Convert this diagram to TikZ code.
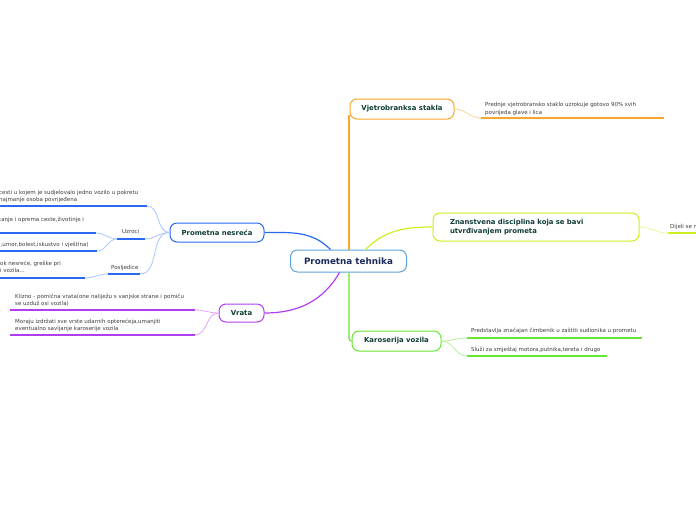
\documentclass[tikz,border=0pt]{standalone}
\usepackage{fontspec}
\setmainfont{DejaVu Sans}
\usetikzlibrary{positioning}
\definecolor{RootBlue}{HTML}{5DA3DA}
\definecolor{Navy}{HTML}{1B2A5C}
\definecolor{DarkGreen}{HTML}{0F3D35}
\definecolor{LeafGray}{HTML}{3C3C3C}
\definecolor{BrOrange}{HTML}{F7A629}
\definecolor{LightOrange}{HTML}{FBD48F}
\definecolor{Lime}{HTML}{D0EE1E}
\definecolor{LightLime}{HTML}{E8F79A}
\definecolor{BrGreen}{HTML}{66E62E}
\definecolor{LightGreen}{HTML}{B5F39A}
\definecolor{BrBlue}{HTML}{2A68F2}
\definecolor{LightBlue}{HTML}{A9C4FF}
\definecolor{BrPurple}{HTML}{B23EF3}
\definecolor{LightPurple}{HTML}{DDA8F8}

\begin{document}
\begin{tikzpicture}[x=1pt,y=-1pt,
        root/.style={draw=RootBlue,line width=1pt,rounded corners=7pt,fill=white,text=Navy,
          font=\fontsize{8.8}{10}\selectfont\bfseries,minimum width=116pt,minimum height=22pt,inner sep=0pt},
        topic/.style={line width=1pt,rounded corners=7pt,fill=white,text=DarkGreen,
          font=\fontsize{6.9}{9}\selectfont\bfseries,minimum height=20pt,inner sep=0pt},
        leaf/.style={anchor=north west,inner sep=0pt,align=left,text=LeafGray,
          font=\fontsize{5.5}{7.2}\selectfont},
        branch/.style={draw=#1,line width=1.2pt},
        twig/.style={draw=#1,line width=0.8pt},
        underline/.style={draw=#1,line width=1.8pt}]
        \useasboundingbox (0,0) rectangle (696,520);
        \clip (0,0) rectangle (696,520);
        \coordinate (trunk) at (349,0);

        \node[root] (tehnika) at (348.5,261) {Prometna tehnika};
        \node[topic,draw=BrOrange,minimum width=104pt] (stakla) at (402,109) {Vjetrobranksa stakla};
        \node[topic,draw=Lime,minimum width=206pt,minimum height=28pt,text width=172pt,align=left]
          (znanost) at (536,227) {Znanstvena disciplina koja se bavi\\utvrđivanjem prometa};
        \node[topic,draw=BrGreen,minimum width=89pt] (karoserija) at (396.5,341) {Karoserija vozila};
        \node[topic,draw=BrBlue,minimum width=94pt,minimum height=19pt] (nesreca) at (217,232.5) {Prometna nesreća};
        \node[topic,draw=BrPurple,minimum width=45pt,minimum height=18pt] (vrata) at (241.5,313) {Vrata};

        \draw[branch=BrOrange] (tehnika.north -| trunk) -- ([yshift=5pt]stakla.south -| trunk);
        \draw[branch=BrGreen] (tehnika.south -| trunk) -- ([yshift=8pt]karoserija.west -| trunk)
          to[out=-90,in=180] (karoserija.west);
        \draw[branch=Lime] ([xshift=17pt]tehnika.north) to[out=45,in=180] (znanost.west);
        \draw[branch=BrBlue] ([xshift=-18pt]tehnika.north) to[out=135,in=0] (nesreca.east);
        \draw[branch=BrPurple] ([xshift=-9pt]tehnika.south) to[out=-120,in=0] (vrata.east);

        \node[leaf] (prednje) at (485,102.5) {Prednje vjetrobransko staklo uzrokuje gotovo 90\% svih\\povrijeda glave i lica};
        \coordinate (prednje-a) at (481,118);
        \coordinate (prednje-b) at (664,118);
        \draw[underline=BrOrange] (prednje-a) -- (prednje-b);
        \draw[twig=LightOrange] (stakla.east) to[out=0,in=180] (prednje-a);

        \node[leaf] (dijeli) at (670,224) {Dijeli se na};
        \coordinate (dijeli-a) at (668,233);
        \coordinate (dijeli-b) at (700,233);
        \draw[underline=Lime] (dijeli-a) -- (dijeli-b);
        \draw[twig=LightLime] (znanost.east) to[out=0,in=180] (dijeli-a);

        \node[leaf] (predstavlja) at (471,328) {Predstavlja značajan čimbenik u zaštiti sudionika u prometu};
        \coordinate (predstavlja-a) at (467,338);
        \coordinate (predstavlja-b) at (642,338);
        \node[leaf] (sluzi) at (471,347) {Služi za smještaj motora,putnika,tereta i drugo};
        \coordinate (sluzi-a) at (467,356);
        \coordinate (sluzi-b) at (607,356);
        \draw[underline=BrGreen] (predstavlja-a) -- (predstavlja-b);
        \draw[underline=BrGreen] (sluzi-a) -- (sluzi-b);
        \draw[twig=LightGreen] (karoserija.east) to[out=0,in=180] (predstavlja-a);
        \draw[twig=LightGreen] (karoserija.east) to[out=0,in=180] (sluzi-a);

        \node[leaf] (definicija) at (-1,190) {cesti u kojem je sudjelovalo jedno vozilo u pokretu\\najmanje osoba povrijeđena};
        \coordinate (definicija-a) at (-5,206);
        \coordinate (definicija-b) at (147,206);
        \node[leaf] (uzroci) at (122,229) {Uzroci};
        \coordinate (uzroci-a) at (117,239);
        \coordinate (uzroci-b) at (145,239);
        \node[leaf] (posljedice) at (111,265) {Posljedice};
        \coordinate (posljedice-a) at (108,274);
        \coordinate (posljedice-b) at (140,274);
        \draw[underline=BrBlue] (definicija-a) -- (definicija-b);
        \draw[underline=BrBlue] (uzroci-a) -- (uzroci-b);
        \draw[underline=BrBlue] (posljedice-a) -- (posljedice-b);
        \draw[twig=LightBlue] (nesreca.west) to[out=180,in=0] (definicija-b);
        \draw[twig=LightBlue] (nesreca.west) to[out=180,in=0] (uzroci-b);
        \draw[twig=LightBlue] (nesreca.west) to[out=180,in=0] (posljedice-b);

        \node[leaf] (okolina) at (-1,217) {tanje i oprema ceste,životinje i};
        \coordinate (okolina-a) at (-5,233);
        \coordinate (okolina-b) at (96,233);
        \node[leaf] (covjek) at (-1,242) {l,umor,bolest,iskustvo i vještina)};
        \coordinate (covjek-a) at (-5,251);
        \coordinate (covjek-b) at (97,251);
        \draw[underline=BrBlue] (okolina-a) -- (okolina-b);
        \draw[underline=BrBlue] (covjek-a) -- (covjek-b);
        \draw[twig=LightBlue] (uzroci-a) to[out=180,in=0] (okolina-b);
        \draw[twig=LightBlue] (uzroci-a) to[out=180,in=0] (covjek-b);

        \node[leaf] (steta) at (0,261) {ok nesreće, greške pri\\i vozila…};
        \coordinate (steta-a) at (-5,278);
        \coordinate (steta-b) at (85,278);
        \draw[underline=BrBlue] (steta-a) -- (steta-b);
        \draw[twig=LightBlue] (posljedice-a) to[out=180,in=0] (steta-b);

        \node[leaf] (klizno) at (15,294) {Klizno - pomična vrata(one naliježu s vanjske strane i pomiču\\se uzduž osi vozila)};
        \coordinate (klizno-a) at (10,310);
        \coordinate (klizno-b) at (195,310);
        \node[leaf] (izdrzati) at (15,319) {Moraju izdržati sve vrste udarnih opterećeja,umanjiti\\eventualno savijanje karoserije vozila};
        \coordinate (izdrzati-a) at (10,335);
        \coordinate (izdrzati-b) at (195,335);
        \draw[underline=BrPurple] (klizno-a) -- (klizno-b);
        \draw[underline=BrPurple] (izdrzati-a) -- (izdrzati-b);
        \draw[twig=LightPurple] (vrata.west) to[out=180,in=0] (klizno-b);
        \draw[twig=LightPurple] (vrata.west) to[out=180,in=0] (izdrzati-b);
      \end{tikzpicture}
\end{document}
